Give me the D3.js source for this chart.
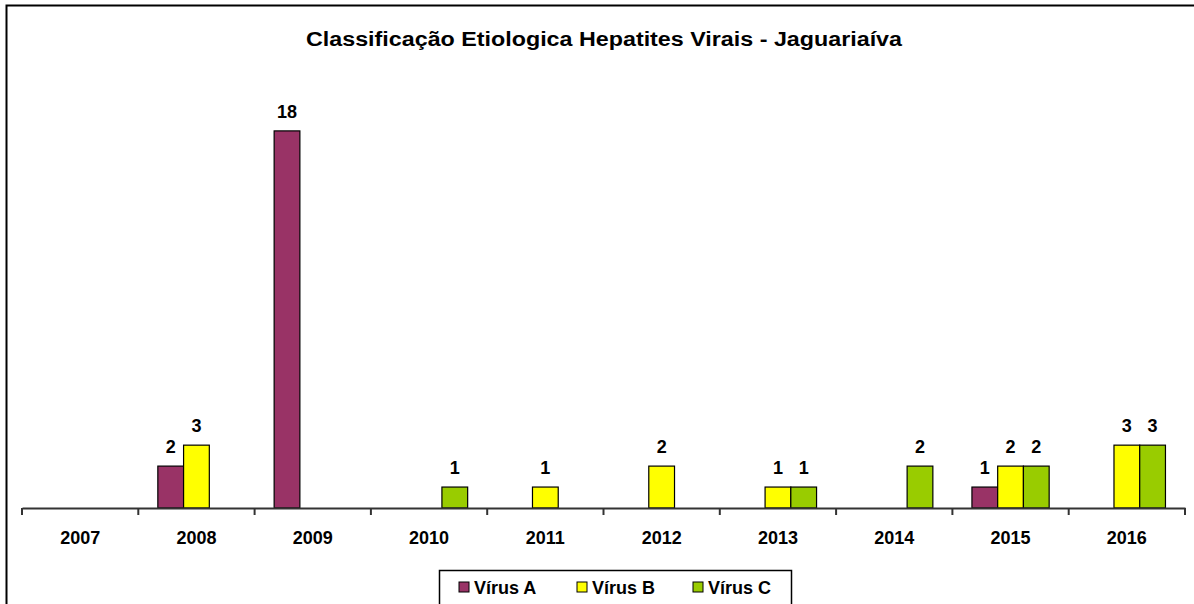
<!DOCTYPE html>
<html>
<head>
<meta charset="utf-8">
<script src="https://cdn.jsdelivr.net/npm/d3@7"></script>
<style>
  body { margin: 0; background: #fff; }
  svg text { font-family: "Liberation Sans", Arial, sans-serif; font-weight: bold; fill: #000; }
</style>
</head>
<body>
<div id="chart"></div>
<script>
const title = "Classificação Etiologica Hepatites Virais - Jaguariaíva";
const years = ["2007", "2008", "2009", "2010", "2011", "2012", "2013", "2014", "2015", "2016"];
const seriesNames = ["Vírus A", "Vírus B", "Vírus C"];
const seriesColors = ["#993366", "#FFFF00", "#99CC00"];
const virusA = [0, 2, 18, 0, 0, 0, 0, 0, 1, 0];
const virusB = [0, 3, 0, 0, 1, 2, 1, 0, 2, 3];
const virusC = [0, 0, 0, 1, 0, 0, 1, 2, 2, 3];

const width = 1194, height = 604;
const svg = d3.select("#chart").append("svg")
    .attr("width", width)
    .attr("height", height);

// outer chart frame (runs off the bottom / right edge like the source)
svg.append("rect")
    .attr("x", 6.5).attr("y", 5.5)
    .attr("width", 1200).attr("height", 700)
    .style("fill", "none")
    .style("stroke", "#000")
    .style("stroke-width", 2);

// title is drawn a bit wide in the source, so stretch it to the same span
svg.append("text")
    .attr("x", 306).attr("y", 46)
    .attr("textLength", 596)
    .attr("lengthAdjust", "spacingAndGlyphs")
    .style("font-size", "19.5px")
    .text(title);

const x = d3.scaleBand().domain(years).range([22, 1185]);
const xs = d3.scaleBand().domain(seriesNames)
    .range([x.bandwidth() * 0.168, x.bandwidth() * 0.832]);
const y = d3.scaleLinear().domain([0, 20]).range([508, 89]);

const rows = [];
years.forEach((yr, i) => {
  [virusA, virusB, virusC].forEach((vals, j) => {
    if (vals[i] > 0) rows.push({ year: yr, series: seriesNames[j], color: seriesColors[j], value: vals[i] });
  });
});

const g = svg.append("g");

g.selectAll("rect.bar")
    .data(rows).enter()
    .append("rect")
    .attr("class", "bar")
    .attr("x", d => x(d.year) + xs(d.series))
    .attr("y", d => y(d.value))
    .attr("width", xs.bandwidth())
    .attr("height", d => y(0) - y(d.value))
    .style("fill", d => d.color)
    .style("stroke", "#000")
    .style("stroke-width", 1.2);

g.selectAll("text.lbl")
    .data(rows).enter()
    .append("text")
    .attr("class", "lbl")
    .attr("x", d => x(d.year) + xs(d.series) + xs.bandwidth() / 2)
    .attr("y", d => y(d.value) - 13)
    .attr("text-anchor", "middle")
    .style("font-size", "18px")
    .text(d => d.value);

// category axis: labels centred, ticks on the category boundaries
const axis = svg.append("g")
    .attr("transform", "translate(0," + y(0) + ")")
    .call(d3.axisBottom(x).tickSize(0).tickPadding(23));
axis.select(".domain").style("stroke", "#333").style("stroke-width", 2);
axis.selectAll(".tick text")
    .style("font-size", "18px")
    .attr("font-family", null);

axis.selectAll("line.bound")
    .data(years.concat(["end"])).enter()
    .append("line")
    .attr("class", "bound")
    .attr("x1", (d, i) => i < years.length ? x(d) : x.range()[1])
    .attr("x2", (d, i) => i < years.length ? x(d) : x.range()[1])
    .attr("y1", 0).attr("y2", 7)
    .style("stroke", "#333")
    .style("stroke-width", 2);

// legend
const legend = svg.append("g").attr("class", "legend");
legend.append("rect")
    .attr("x", 439.5).attr("y", 570.5)
    .attr("width", 352).attr("height", 60)
    .style("fill", "#fff")
    .style("stroke", "#000")
    .style("stroke-width", 1.5);

const legendX = [459, 577, 693];
const items = legend.selectAll("g.item")
    .data(seriesNames).enter()
    .append("g")
    .attr("class", "item")
    .attr("transform", (d, i) => "translate(" + legendX[i] + ",582)");
items.append("rect")
    .attr("width", 10).attr("height", 10)
    .style("fill", (d, i) => seriesColors[i])
    .style("stroke", "#000")
    .style("stroke-width", 1);
items.append("text")
    .attr("x", 15).attr("y", 11.5)
    .style("font-size", "18px")
    .text(d => d);
</script>
</body>
</html>
